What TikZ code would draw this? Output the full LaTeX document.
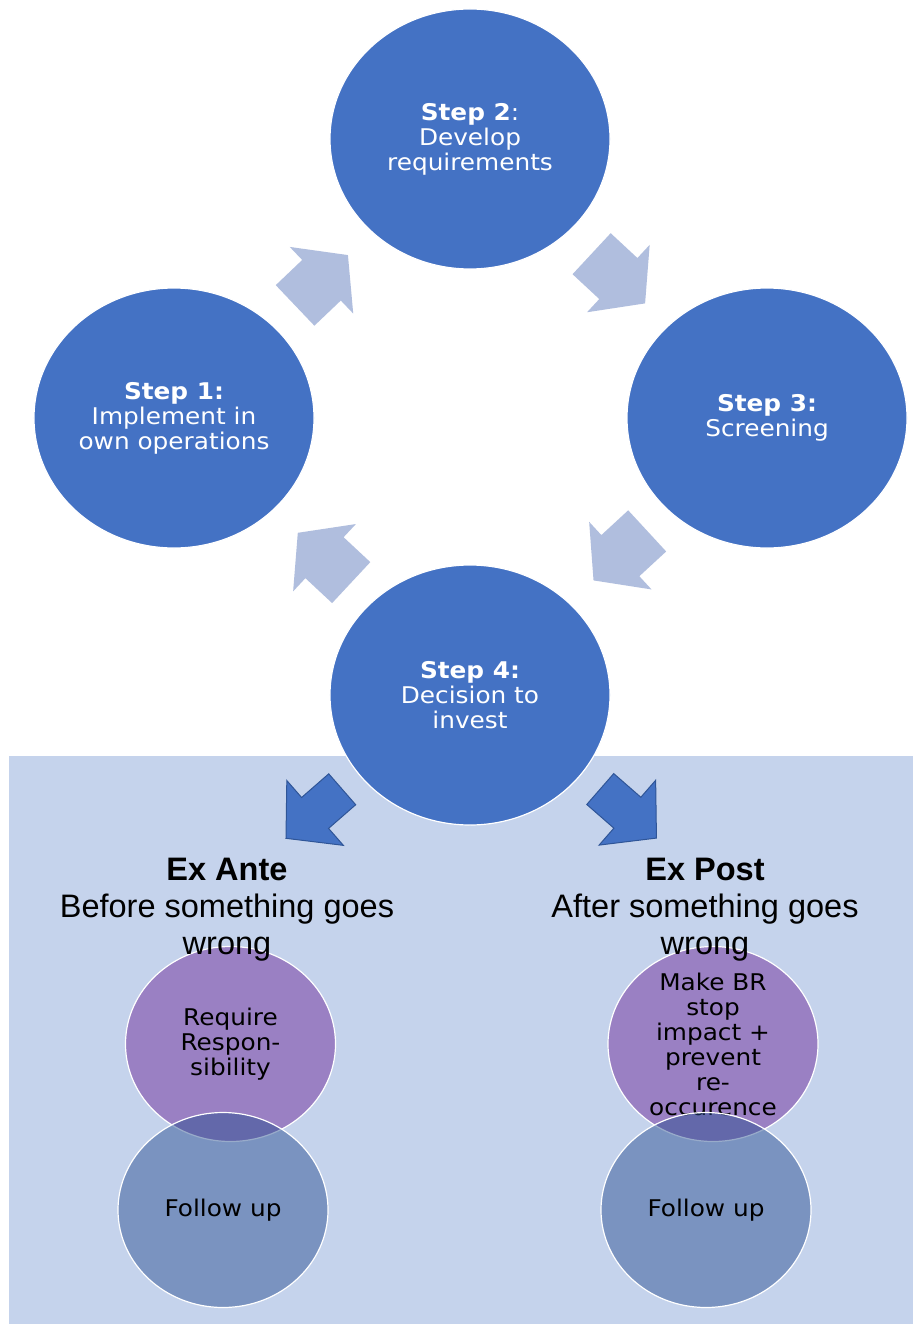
\documentclass[tikz,border=0pt]{standalone}
\usepackage{fontspec}
\newfontfamily\vfont{DejaVu Sans}
\newfontfamily\afont{Liberation Sans}
\usetikzlibrary{shapes.geometric}
\definecolor{stepblue}{RGB}{68,114,196}
\definecolor{lightarr}{RGB}{176,190,222}
\definecolor{darkedge}{RGB}{47,85,151}
\definecolor{panel}{RGB}{197,211,236}
\definecolor{violetfill}{RGB}{154,128,195}
\definecolor{fupblue}{RGB}{38,77,143}
\tikzset{
  stepcircle/.style={circle, minimum size=260pt, inner sep=0pt, xscale=1.077,
    fill=stepblue, draw=white, line width=1.2pt, text=white, align=center,
    font=\vfont\fontsize{23}{25}\selectfont},
  purplecircle/.style={circle, minimum size=195pt, inner sep=0pt, xscale=1.077,
    fill=violetfill, draw=white, line width=1.2pt, text=black, align=center,
    font=\vfont\fontsize{23}{25}\selectfont},
  followcircle/.style={circle, minimum size=195pt, inner sep=0pt, xscale=1.077,
    fill=fupblue, fill opacity=0.47, text opacity=1, draw=white, draw opacity=1,
    line width=1.2pt, text=black, align=center,
    font=\vfont\fontsize{23}{25}\selectfont},
  headtext/.style={inner sep=0pt, align=center, text=black,
    font=\afont\fontsize{32.5}{37}\selectfont},
  lightarrow/.pic={\path[pic actions] (-36.5,-28) -- (0,-28) -- (0,-46) -- (36.5,0)
    -- (0,46) -- (0,28) -- (-36.5,28) -- cycle;},
  darkarrow/.pic={\path[pic actions] (-37.3,-20.5) -- (-1.3,-20.5) -- (-1.3,-43) -- (37.3,0)
    -- (-1.3,43) -- (-1.3,20.5) -- (-37.3,20.5) -- cycle;},
}
\begin{document}
\begin{tikzpicture}[x=1pt,y=-1pt]
\useasboundingbox (0,0) rectangle (913,1324);
\fill[white] (0,0) rectangle (913,1324);
\fill[panel] (9,756) rectangle (913,1324);

% cycle of steps
\node[stepcircle] (s2) at (470,139) {\textbf{Step 2}:\\Develop\\requirements};
\node[stepcircle] (s1) at (174,418) {\textbf{Step 1:}\\Implement in\\own operations};
\node[stepcircle] (s3) at (767,418) {\textbf{Step 3:}\\Screening};
\node[stepcircle] (s4) at (470,695) {\textbf{Step 4:}\\Decision to\\invest};

% light block arrows between steps
\pic[fill=lightarr, rotate=43.6] at (321.5,280.25) {lightarrow};
\pic[fill=lightarr, rotate=-42.9] at (618.35,278.55) {lightarrow};
\pic[fill=lightarr, rotate=-137.3] at (620.35,555.65) {lightarrow};
\pic[fill=lightarr, rotate=137] at (324.5,557.7) {lightarrow};

% dark block arrows from step 4
\pic[fill=stepblue, draw=darkedge, line width=1pt, rotate=-138.9] at (314.1,813.8) {darkarrow};
\pic[fill=stepblue, draw=darkedge, line width=1pt, rotate=-41.1] at (628.35,813.55) {darkarrow};

% lower circles
\node[purplecircle] (r1) at (230.5,1044) {Require\\Respon-\\sibility};
\node[purplecircle] (r2) at (713,1044) {Make BR\\stop\\impact +\\prevent\\re-\\occurence};
\node[followcircle] (f1) at (223,1210) {Follow up};
\node[followcircle] (f2) at (706,1210) {Follow up};

% headings
\node[headtext] (hA) at (227,910) {\textbf{Ex Ante}\\Before something goes\\wrong};
\node[headtext] (hP) at (705,910) {\textbf{Ex Post}\\After something goes\\wrong};
\end{tikzpicture}
\end{document}
